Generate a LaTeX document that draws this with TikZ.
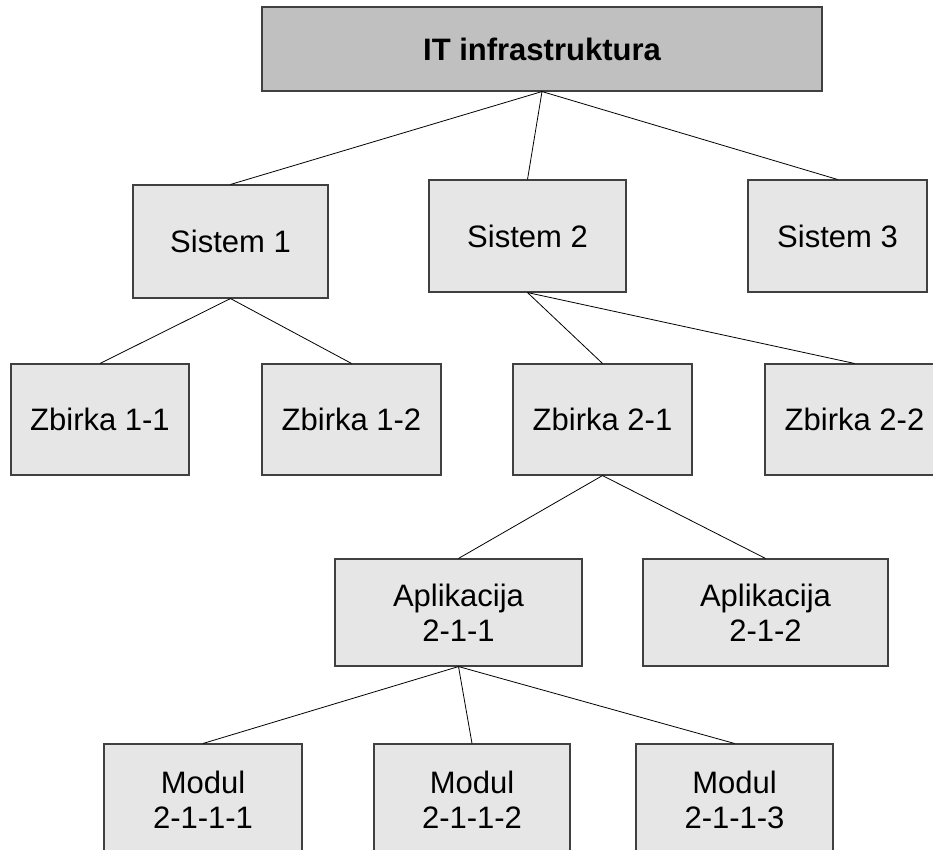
\documentclass[tikz,border=0pt]{standalone}
\usepackage{fontspec}
\setmainfont{Liberation Sans}
\definecolor{rootfill}{RGB}{192,192,192}
\definecolor{boxfill}{RGB}{230,230,230}
\definecolor{boxline}{RGB}{64,64,64}
\begin{document}
\begin{tikzpicture}[x=1pt,y=-1pt,
  unit/.style={rectangle, draw=boxline, line width=1.1pt, fill=boxfill,
    inner sep=0pt, align=center,
    font=\fontsize{31}{35}\selectfont},
  root/.style={unit, fill=rootfill, font=\fontsize{31}{35}\selectfont\bfseries},
  link/.style={draw=black, line width=0.8pt}]
\useasboundingbox (0,0) rectangle (933,849);
\clip (0,0) rectangle (933,849);

% top level
\node[root, minimum width=560pt, minimum height=84pt] (it) at (542,49) {IT infrastruktura};

% systems
\node[unit, minimum width=195pt, minimum height=113pt] (s1) at (230.5,241.5) {Sistem 1};
\node[unit, minimum width=197pt, minimum height=112pt] (s2) at (527.5,236) {Sistem 2};
\node[unit, minimum width=179pt, minimum height=112pt] (s3) at (837.5,236) {Sistem 3};

% collections
\node[unit, minimum width=178pt, minimum height=111pt] (z11) at (100,419.5) {Zbirka 1-1};
\node[unit, minimum width=179pt, minimum height=111pt] (z12) at (351.5,419.5) {Zbirka 1-2};
\node[unit, minimum width=179pt, minimum height=111pt] (z21) at (602.5,419.5) {Zbirka 2-1};
\node[unit, minimum width=179pt, minimum height=111pt] (z22) at (854.5,419.5) {Zbirka 2-2};

% applications
\node[unit, minimum width=247pt, minimum height=107pt] (a1) at (458.5,612.5) {Aplikacija\\2-1-1};
\node[unit, minimum width=245pt, minimum height=107pt] (a2) at (765.5,612.5) {Aplikacija\\2-1-2};

% modules
\node[unit, minimum width=198pt, minimum height=112pt] (m1) at (203,800) {Modul\\2-1-1-1};
\node[unit, minimum width=196pt, minimum height=112pt] (m2) at (472,800) {Modul\\2-1-1-2};
\node[unit, minimum width=197pt, minimum height=112pt] (m3) at (734.5,800) {Modul\\2-1-1-3};

% tree links
\draw[link] (it.south) -- (s1.north);
\draw[link] (it.south) -- (s2.north);
\draw[link] (it.south) -- (s3.north);
\draw[link] (s1.south) -- (z11.north);
\draw[link] (s1.south) -- (z12.north);
\draw[link] (s2.south) -- (z21.north);
\draw[link] (s2.south) -- (z22.north);
\draw[link] (z21.south) -- (a1.north);
\draw[link] (z21.south) -- (a2.north);
\draw[link] (a1.south) -- (m1.north);
\draw[link] (a1.south) -- (m2.north);
\draw[link] (a1.south) -- (m3.north);
\end{tikzpicture}
\end{document}
